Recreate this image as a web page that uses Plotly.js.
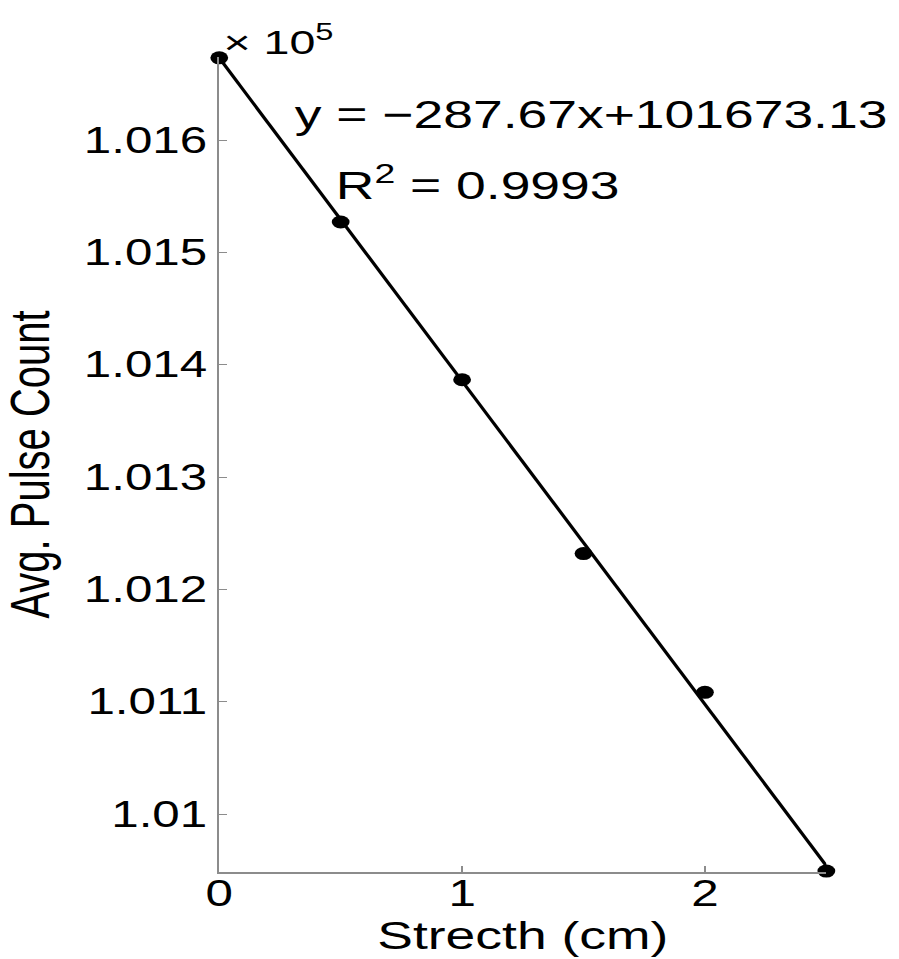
<!DOCTYPE html>
<html>
<head>
<meta charset="utf-8">
<script src="https://cdn.plot.ly/plotly-3.0.1.min.js"></script>
<style>
  html, body { margin: 0; padding: 0; background: #fff; overflow: hidden; }
  #wrap { width: 899px; height: 959px; overflow: hidden; }
  #chart { width: 656px; height: 959px; transform: scaleX(1.3704); transform-origin: 0 0; }
</style>
</head>
<body>
<div id="wrap"><div id="chart"></div></div>
<script>
// Data
const stretchCm = [0, 0.5, 1, 1.5, 2, 2.5];
const avgPulseCount = [101673.3, 101527.1, 101386.7, 101232.0, 101108.4, 100949.3];
// Fitted line end points (from the printed equation)
const fitX = [0, 2.5];
const fitY = [101673.13, 100954.0];
// Tick labels
const xTickVals = [0, 1, 2];
const xTickText = ['0', '1', '2'];
const yTickVals = [101000, 101100, 101200, 101300, 101400, 101500, 101600];
const yTickText = ['1.01', '1.011', '1.012', '1.013', '1.014', '1.015', '1.016'];
const eqText = 'y = \u2212287.67x+101673.13';
const r2Text = 'R<sup>2</sup> = 0.9993';
const expText = '\u00d7 10<sup>5</sup>';

const FONT = 'Liberation Sans, Arial, Helvetica, sans-serif';
const AXIS_GRAY = '#8c8c8c';

const traces = [
  {
    x: fitX, y: fitY, type: 'scatter', mode: 'lines',
    line: {color: '#000', width: 2.6}, hoverinfo: 'skip', showlegend: false,
    cliponaxis: false
  },
  {
    x: stretchCm, y: avgPulseCount, type: 'scatter', mode: 'markers',
    marker: {color: '#000', size: 13, symbol: 'circle'}, showlegend: false,
    cliponaxis: false
  }
];

const layout = {
  width: 656, height: 959,
  margin: {l: 160, r: 52.7, t: 57, b: 87, pad: 0},
  paper_bgcolor: '#fff', plot_bgcolor: '#fff',
  font: {family: FONT, color: '#000', size: 36},
  showlegend: false,
  xaxis: {
    range: [0, 2.5], showgrid: false, zeroline: false,
    showline: true, linecolor: AXIS_GRAY, linewidth: 1.6,
    ticks: 'inside', ticklen: 6, tickwidth: 1.2, tickcolor: AXIS_GRAY,
    tickvals: xTickVals, ticktext: xTickText, ticklabelstandoff: -11,
    tickfont: {family: FONT, size: 36, color: '#000'},
    title: {text: 'Strecth (cm)', font: {family: FONT, size: 39, color: '#000'}, standoff: 4}
  },
  yaxis: {
    range: [100948.5, 101674], showgrid: false, zeroline: false,
    showline: true, linecolor: AXIS_GRAY, linewidth: 1.6,
    ticks: 'inside', ticklen: 6, tickwidth: 1.2, tickcolor: AXIS_GRAY,
    tickvals: yTickVals, ticktext: yTickText,
    tickfont: {family: FONT, size: 36, color: '#000'},
    title: {text: 'Avg. Pulse Count', font: {family: FONT, size: 40, color: '#000'}, standoff: 12}
  },
  annotations: [
    {text: eqText, xref: 'x', yref: 'y', x: 0.30, y: 101623, xanchor: 'left', yanchor: 'middle',
     showarrow: false, font: {family: FONT, size: 39, color: '#000'}},
    {text: r2Text, xref: 'x', yref: 'y', x: 0.47, y: 101562, xanchor: 'left', yanchor: 'middle',
     showarrow: false, font: {family: FONT, size: 39, color: '#000'}},
    {text: expText, xref: 'paper', yref: 'paper', x: 0.0, y: 1.0, xanchor: 'left', yanchor: 'bottom',
     xshift: 1, yshift: -6, showarrow: false, font: {family: FONT, size: 34, color: '#000'}}
  ]
};

Plotly.newPlot('chart', traces, layout, {staticPlot: true, displayModeBar: false, responsive: false});
</script>
</body>
</html>
